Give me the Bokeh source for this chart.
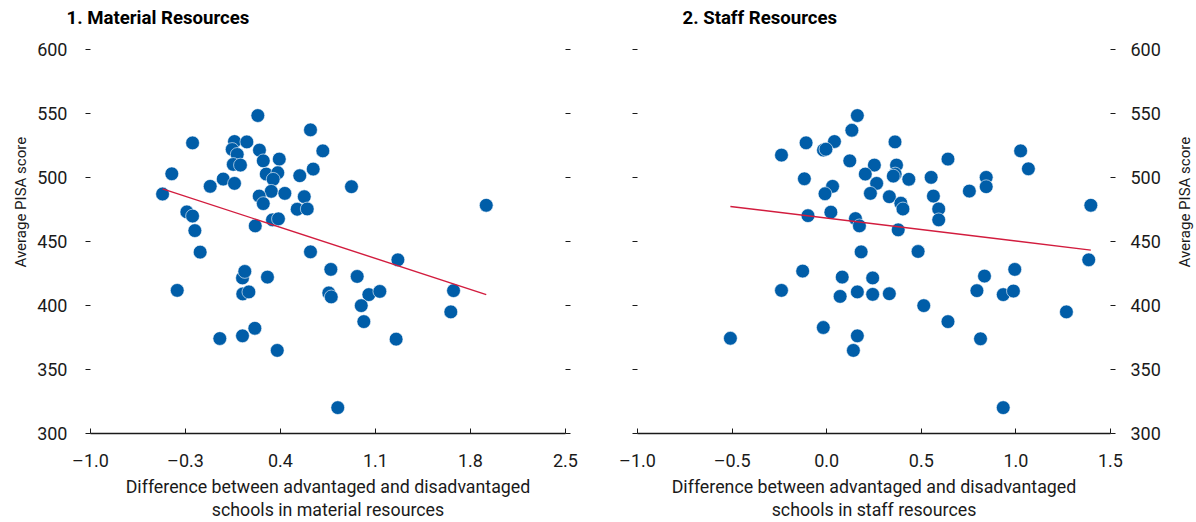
import numpy as np
from bokeh.plotting import figure
from bokeh.models import LinearAxis, FixedTicker, Range1d, Title, CustomJSTickFormatter
from bokeh.layouts import row
from bokeh.embed import file_html
from bokeh.resources import INLINE

FONT = "Roboto"
BLUE = "#005DA8"
RED = "#D21C3E"
INK = "#1a1a1a"

# ---- data -------------------------------------------------------------
y_ticks = [300, 350, 400, 450, 500, 550, 600]
y_tick_labels = ["300", "350", "400", "450", "500", "550", "600"]

mat_ticks = [-1.0, -0.3, 0.4, 1.1, 1.8, 2.5]
mat_tick_labels = ["\u20131.0", "\u20130.3", "0.4", "1.1", "1.8", "2.5"]
staff_ticks = [-1.0, -0.5, 0.0, 0.5, 1.0, 1.5]
staff_tick_labels = ["\u20131.0", "\u20130.5", "0.0", "0.5", "1.0", "1.5"]

mat_x = [0.233, 0.621, -0.248, 0.061, 0.152, 0.044, 0.245, 0.081, 0.712, 0.273,
         0.391, 0.052, 0.105, 0.641, -0.401, 0.295, 0.380, 0.346, 0.542, -0.022,
         0.061, -0.118, -0.469, 0.332, 0.243, 0.432, 0.575, 0.273, 0.523, 0.597,
         -0.290, -0.248, 0.341, 0.385, 0.214, -0.231, -0.192, 0.621, -0.361, 0.120,
         0.137, 0.304, 0.122, 0.167, -0.047, 0.120, 0.211, 0.376, 0.923, 1.916,
         1.265, 0.771, 0.965, 0.756, 0.774, 1.051, 1.132, 0.995, 1.675, 1.655,
         1.014, 1.252, 0.822]
mat_y = [548.4, 537.2, 527.0, 528.1, 527.8, 521.9, 521.4, 518.0, 520.8, 513.0,
         514.4, 510.2, 509.7, 506.6, 502.9, 502.7, 503.7, 498.6, 501.4, 498.8,
         495.4, 493.1, 487.1, 489.2, 485.5, 487.6, 485.0, 479.6, 475.2, 475.4,
         473.1, 469.9, 466.9, 467.7, 462.2, 458.5, 441.7, 441.9, 411.8, 421.5,
         426.6, 422.2, 409.0, 410.6, 374.2, 376.3, 382.2, 364.9, 492.8, 478.3,
         435.7, 428.2, 422.7, 409.8, 406.7, 408.5, 411.0, 399.9, 411.6, 395.0,
         387.4, 373.7, 320.2]

staff_x = [0.162, 0.133, -0.109, 0.041, 0.361, -0.239, -0.017, -0.004, 0.122, 0.252,
           0.204, 0.369, 0.362, 0.352, -0.118, 0.264, 0.031, -0.009, 0.231, 0.331,
           0.022, -0.099, 0.152, 0.173, 0.378, 0.182, -0.127, 0.082, 0.243, -0.239,
           0.071, 0.162, 0.243, 0.331, -0.509, -0.018, 0.162, 0.141, 1.025, 0.641,
           0.434, 0.552, 0.843, 0.843, 1.066, 0.754, 0.564, 0.392, 0.403, 0.592,
           0.592, 1.396, 0.483, 0.994, 0.834, 1.385, 0.794, 0.933, 0.987, 0.513,
           1.267, 0.641, 0.813, 0.933]
staff_y = [548.4, 536.9, 527.1, 528.1, 527.8, 517.5, 521.4, 522.1, 513.0, 509.7,
           502.7, 509.7, 502.7, 501.1, 499.0, 495.4, 493.1, 487.3, 487.6, 485.0,
           472.9, 470.2, 467.9, 462.2, 459.1, 441.9, 426.9, 422.2, 421.5, 411.8,
           407.1, 410.6, 408.7, 409.2, 374.4, 382.8, 376.3, 364.9, 520.8, 514.4,
           498.6, 500.1, 500.1, 492.8, 506.8, 489.4, 485.5, 479.9, 475.4, 475.4,
           466.9, 478.3, 442.2, 428.2, 423.0, 435.7, 411.6, 408.5, 411.3, 399.9,
           395.0, 387.4, 374.0, 320.2]

titles = ["1. Material Resources", "2. Staff Resources"]
x_titles = ["Difference between advantaged and disadvantaged\nschools in material resources",
            "Difference between advantaged and disadvantaged\nschools in staff resources"]
y_title = "Average PISA score"

TICK_SIZE = "18px"
XLABEL_SIZE = "17.8px"
YLABEL_SIZE = "15px"
TITLE_SIZE = "18.6px"

H = 522
B_TOP = 49
B_BOTTOM = 88


def fmt(ticks, labels):
    return CustomJSTickFormatter(args=dict(t=ticks, l=labels), code="""
        for (let i = 0; i < t.length; i++) { if (Math.abs(t[i] - tick) < 1e-6) return l[i]; }
        return "";
    """)


def yaxis(side, labelled):
    ax = LinearAxis(ticker=FixedTicker(ticks=y_ticks), axis_line_color=None,
                    major_tick_in=0, major_tick_out=5, major_tick_line_color=INK,
                    major_tick_line_width=1, minor_tick_line_color=None,
                    major_label_text_font=FONT, major_label_text_font_size=TICK_SIZE,
                    major_label_text_color=INK)
    if labelled:
        ax.formatter = fmt(y_ticks, y_tick_labels)
        ax.major_label_standoff = 18 if side == "left" else 15
    else:
        ax.formatter = CustomJSTickFormatter(code="return '';")
        ax.major_label_standoff = 0
    return ax


def y_title_box(text):
    # rotated axis title reading upwards, placed at the side of a frame
    return Title(text=text, align="left", offset=166, standoff=2,
                 text_font=FONT, text_font_style="normal", text_font_size=YLABEL_SIZE,
                 text_color=INK)


def base(width, bl, br, xr):
    p = figure(width=width, height=H, x_range=Range1d(*xr), y_range=Range1d(300, 600),
               x_axis_location=None, y_axis_location=None, output_backend="svg",
               toolbar_location=None, min_border_left=bl, min_border_right=br,
               min_border_top=B_TOP, min_border_bottom=B_BOTTOM)
    p.outline_line_color = None
    p.background_fill_color = "white"
    p.border_fill_color = "white"
    p.grid.grid_line_color = None
    return p


def panel(title, title_offset, xs, ys, xt, xl, xtitle, width, bl, br):
    p = base(width, bl, br, (xt[0], xt[-1]))

    xa = LinearAxis(ticker=FixedTicker(ticks=xt), formatter=fmt(xt, xl),
                    axis_line_color=INK, axis_line_width=1.4,
                    major_tick_in=5, major_tick_out=0, major_tick_line_color=INK,
                    major_tick_line_width=1, minor_tick_line_color=None,
                    major_label_standoff=16, major_label_text_font=FONT,
                    major_label_text_font_size=TICK_SIZE, major_label_text_color=INK,
                    axis_label=xtitle, axis_label_standoff=2,
                    axis_label_text_font=FONT, axis_label_text_font_size=XLABEL_SIZE,
                    axis_label_text_font_style="normal", axis_label_text_color=INK,
                    axis_label_text_line_height=1.1)
    p.add_layout(xa, "below")

    p.scatter(xs, ys, size=13.8, fill_color=BLUE, line_color="white", line_width=0.6)

    k, b = np.polyfit(xs, ys, 1)
    lx = [min(xs), max(xs)]
    p.line(lx, [k * v + b for v in lx], line_color=RED, line_width=1.4)

    # spacer next to the frame, then the panel title above it
    p.add_layout(Title(text=" ", text_font_size="1px", standoff=16), "above")
    p.add_layout(Title(text=title, align="left", offset=title_offset, standoff=4,
                       vertical_align="bottom", text_font=FONT, text_font_style="bold",
                       text_font_size=TITLE_SIZE, text_color="black"), "above")
    return p


p1 = panel(titles[0], -24, mat_x, mat_y, mat_ticks, mat_tick_labels, x_titles[0], 600, 90, 35)
p1.add_layout(yaxis("left", True), "left")
t1 = y_title_box(y_title)
t1.standoff = 10
p1.add_layout(t1, "left")
p1.add_layout(yaxis("right", False), "right")

p2 = panel(titles[1], 45, staff_x, staff_y, staff_ticks, staff_tick_labels, x_titles[1], 563, 37, 51)
p2.add_layout(yaxis("left", False), "left")
p2.add_layout(yaxis("right", True), "right")

# narrow strip carrying the right-hand axis title
p3 = base(33, 31, 1, (0, 1))
p3.add_layout(y_title_box(y_title), "left")

layout = row(p1, p2, p3)
open("out.html", "w").write(file_html(layout, INLINE))
